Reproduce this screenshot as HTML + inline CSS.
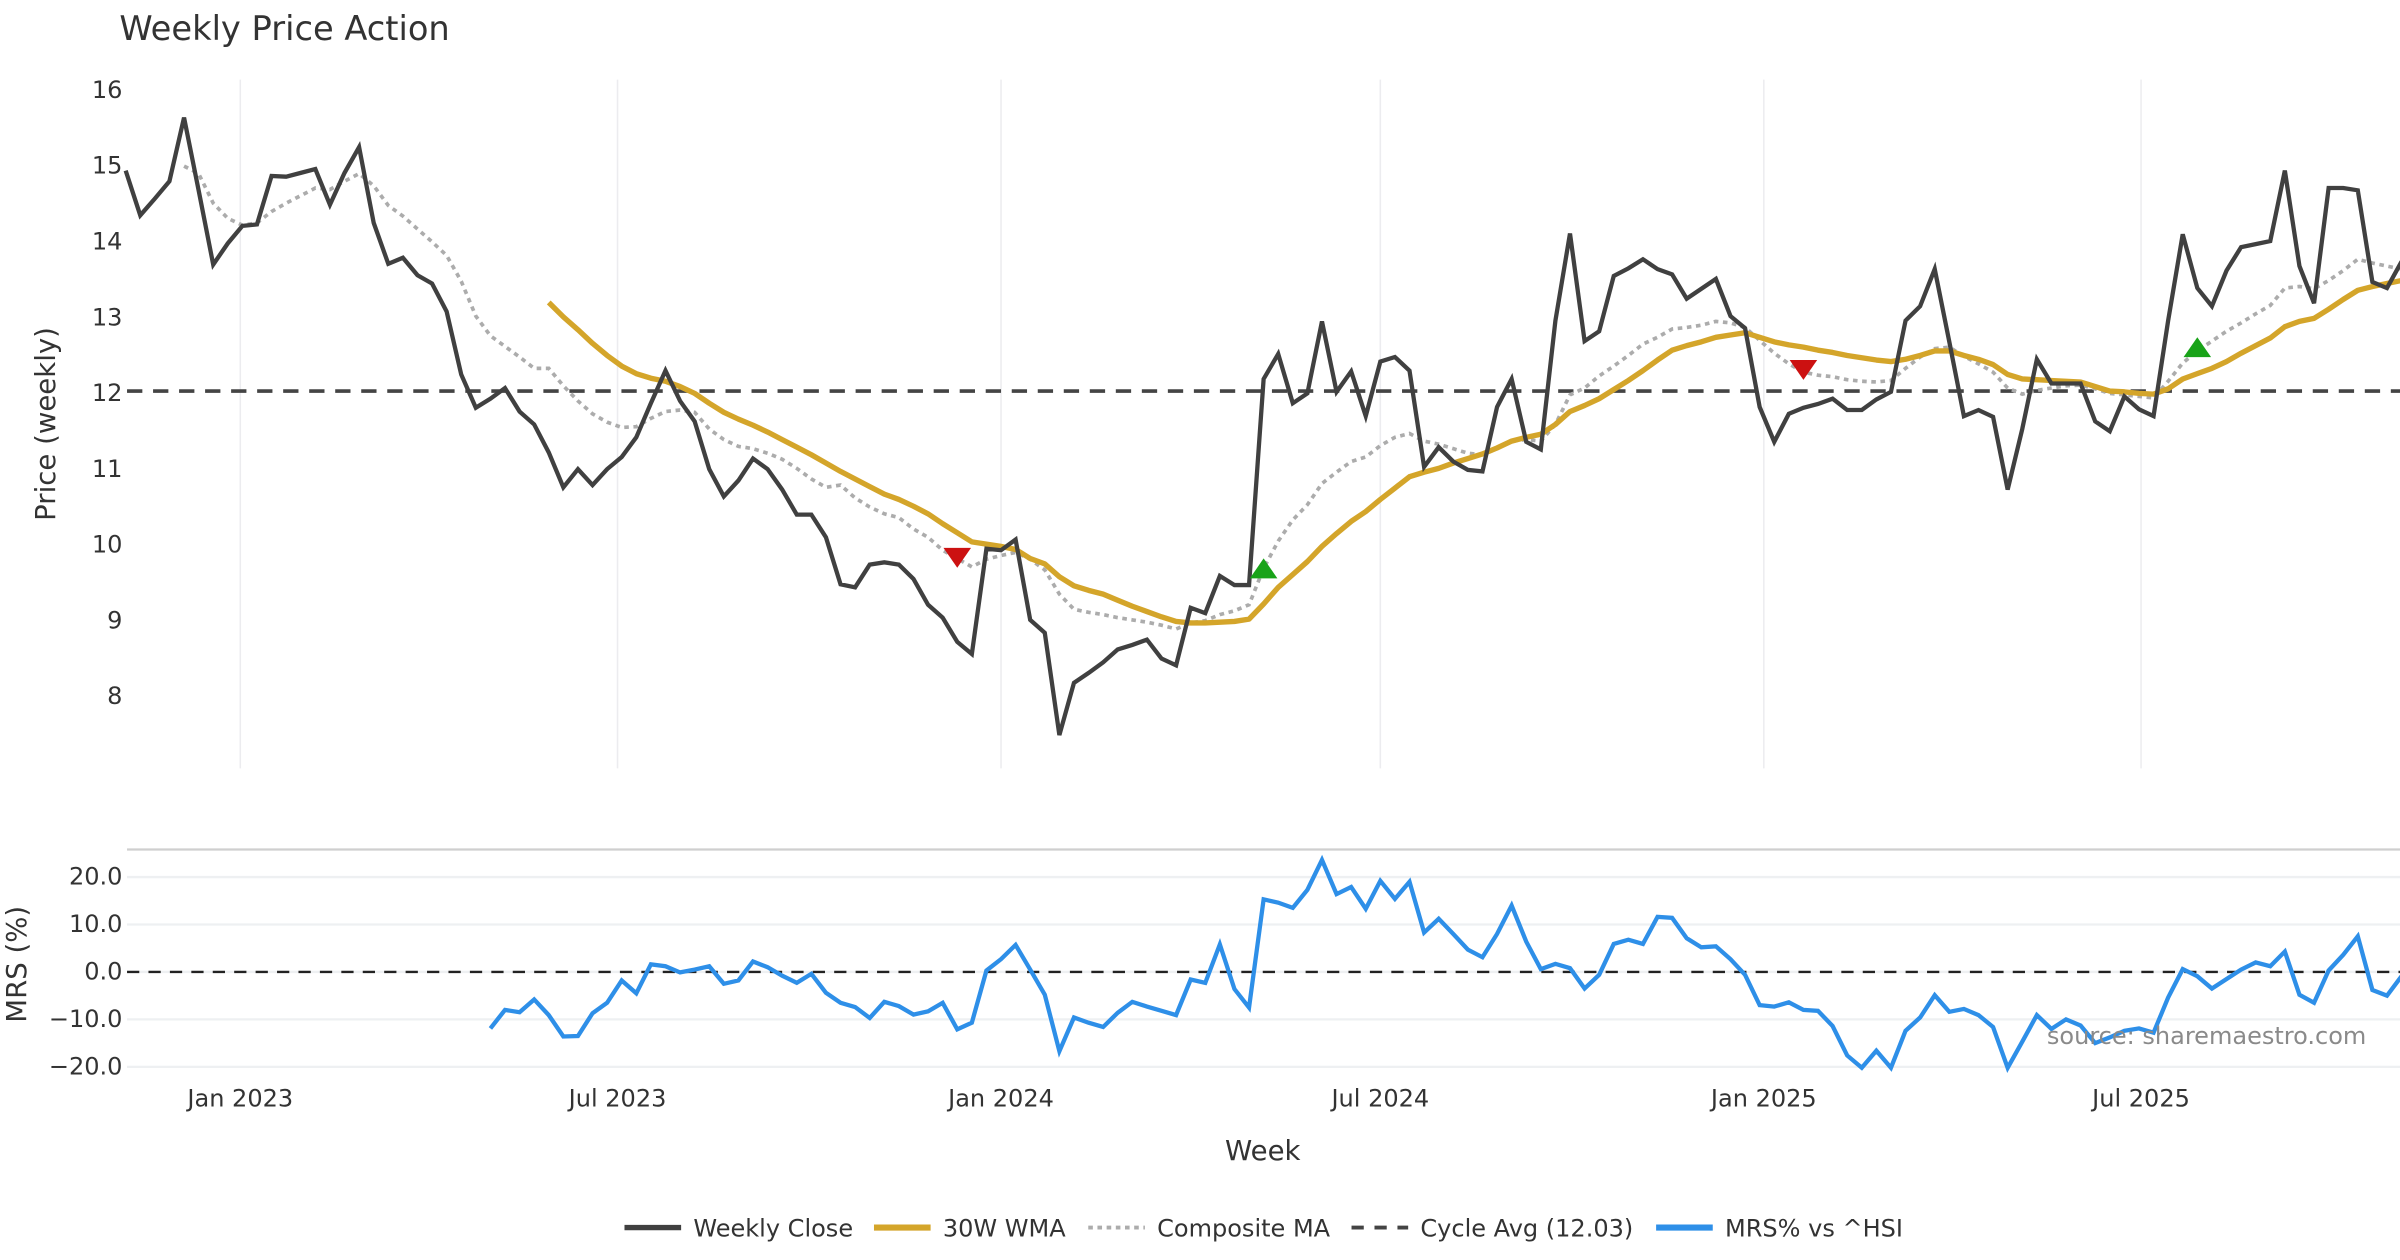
<!DOCTYPE html>
<html>
<head>
<meta charset="utf-8">
<style>
  html,body{margin:0;padding:0;background:#fff;}
  svg{display:block;}
  text{font-family:"DejaVu Sans","Liberation Sans",sans-serif;fill:#333;}
</style>
</head>
<body>
<svg id="chart" width="2400" height="1260" viewBox="0 0 1568 823.2" preserveAspectRatio="none" xmlns="http://www.w3.org/2000/svg">
  <rect x="0" y="0" width="1568" height="823.2" fill="#fff"/>
  <text x="78" y="26" font-size="22">Weekly Price Action</text>
  <g id="grid"></g>
  <g id="axes"></g>
  <g id="series"></g>
  <text transform="translate(36,277) rotate(-90)" text-anchor="middle" font-size="18">Price (weekly)</text>
  <text transform="translate(17,630) rotate(-90)" text-anchor="middle" font-size="18">MRS (%)</text>
  <text x="825" y="758" text-anchor="middle" font-size="18">Week</text>
  <text x="1546" y="682" text-anchor="end" font-size="15.7" style="fill:#8a8a8a">source: sharemaestro.com</text>
  <g id="legend"></g>
</svg>
<script>
const startDate = "2022-11-07";
const closeVals = [14.94,14.35,14.57,14.80,15.64,14.68,13.70,13.98,14.21,14.23,14.87,14.86,14.91,14.96,14.49,14.91,15.25,14.25,13.71,13.79,13.56,13.45,13.08,12.25,11.81,11.93,12.07,11.76,
11.59,11.22,10.76,11.0,10.79,11.0,11.16,11.42,11.87,12.3,11.9,11.63,11.0,10.64,10.85,11.14,11.0,10.73,10.4,10.4,10.1,9.48,9.44,9.74,9.77,9.74,
9.55,9.21,9.04,8.72,8.56,9.95,9.93,10.07,9.01,8.84,7.49,8.18,8.31,8.45,8.62,8.68,8.75,8.5,8.41,9.17,9.1,9.59,9.47,9.47,12.19,12.52,
11.87,12.0,12.95,12.02,12.29,11.7,12.42,12.48,12.3,11.03,11.29,11.1,10.99,10.97,11.82,12.19,11.36,11.26,12.96,14.11,12.69,12.82,13.55,13.65,13.77,13.64,
13.57,13.25,13.38,13.51,13.02,12.86,11.82,11.36,11.73,11.81,11.86,11.93,11.78,11.78,11.92,12.02,12.96,13.15,13.64,12.68,11.7,11.78,11.69,10.73,11.53,12.45,
12.13,12.13,12.13,11.63,11.5,11.96,11.79,11.7,12.96,14.1,13.39,13.15,13.62,13.93,13.97,14.01,14.94,13.68,13.19,14.71,14.71,14.68,13.47,13.39,13.74];
const compositeStart = 4;
const compositeVals = [15.0,14.9,14.51,14.31,14.22,14.25,14.4,14.51,14.61,14.71,14.69,14.8,14.9,14.74,14.48,14.34,14.17,14.0,13.82,13.48,13.02,12.76,12.62,
12.48,12.33,12.33,12.1,11.9,11.73,11.62,11.55,11.56,11.67,11.76,11.78,11.75,11.53,11.39,11.3,11.27,11.21,11.13,11.01,10.87,10.76,10.79,10.62,10.5,10.41,10.36,
10.21,10.1,9.93,9.82,9.71,9.81,9.86,9.9,9.81,9.67,9.35,9.15,9.11,9.08,9.04,9.01,8.98,8.94,8.89,8.97,9.0,9.08,9.13,9.21,9.69,10.05,
10.33,10.53,10.81,10.96,11.1,11.16,11.31,11.42,11.47,11.37,11.33,11.27,11.21,11.19,11.27,11.37,11.39,11.37,11.59,11.98,12.07,12.23,12.36,12.5,12.65,12.74,
12.85,12.87,12.9,12.95,12.93,12.87,12.7,12.53,12.39,12.28,12.24,12.22,12.18,12.16,12.15,12.17,12.33,12.48,12.59,12.61,12.49,12.39,12.28,12.07,11.99,12.04,
12.07,12.1,12.11,12.06,12.0,11.98,11.96,11.94,12.16,12.4,12.56,12.69,12.82,12.93,13.05,13.16,13.39,13.41,13.38,13.49,13.62,13.77,13.72,13.68,13.64];
const wmaStart = 29;
const wmaVals = [13.2,13.01,12.84,12.66,12.5,12.36,12.26,12.2,12.16,12.09,12.0,11.87,11.75,11.66,11.58,11.49,11.39,11.29,11.19,11.08,10.97,10.87,10.77,10.67,10.6,
10.51,10.41,10.28,10.16,10.04,10.01,9.98,9.94,9.82,9.75,9.58,9.46,9.4,9.35,9.27,9.19,9.12,9.05,8.99,8.97,8.97,8.98,8.99,9.02,9.22,9.44,
9.61,9.78,9.98,10.15,10.31,10.44,10.6,10.75,10.9,10.96,11.01,11.08,11.14,11.2,11.28,11.37,11.42,11.46,11.59,11.76,11.84,11.93,12.05,12.17,12.3,12.44,
12.57,12.63,12.68,12.74,12.77,12.8,12.74,12.68,12.64,12.61,12.57,12.54,12.5,12.47,12.44,12.42,12.45,12.5,12.56,12.56,12.5,12.45,12.38,12.25,12.19,12.18,
12.17,12.16,12.15,12.09,12.03,12.02,12.0,11.99,12.06,12.19,12.26,12.33,12.42,12.53,12.63,12.73,12.88,12.95,12.99,13.11,13.24,13.36,13.41,13.45,13.49];
const mrsStart = 25;
const mrsVals = [-11.9,-8.0,-8.5,-5.8,-9.1,-13.6,-13.5,-8.7,-6.5,-1.8,-4.5,1.6,1.2,-0.1,0.5,1.2,-2.5,-1.8,2.2,1.0,-0.8,-2.3,-0.4,-4.4,-6.5,-7.4,-9.7,-6.3,-7.2,-9.0,-8.3,-6.5,-12.1,-10.7,0.3,2.7,5.7,0.5,-4.8,-16.7,-9.6,-10.7,-11.6,
-8.6,-6.3,-7.3,-8.2,-9.1,-1.6,-2.3,5.8,-3.6,-7.5,15.3,14.6,13.5,17.3,23.6,16.4,17.9,13.3,19.2,15.4,19.0,8.3,11.2,8.0,4.7,3.1,8.0,14.0,6.4,0.6,1.7,0.8,-3.5,-0.6,5.9,6.8,5.9,11.6,11.4,7.1,5.2,5.4,2.7,
-0.6,-7.0,-7.3,-6.4,-8.0,-8.2,-11.4,-17.6,-20.2,-16.6,-20.2,-12.4,-9.6,-4.9,-8.4,-7.8,-9.1,-11.6,-20.2,-14.7,-9.1,-12.0,-10.0,-11.3,-15.0,-13.8,-12.4,-11.9,-12.8,-5.4,0.6,-0.9,-3.5,-1.5,0.5,2.0,1.2,4.3,-4.8,-6.5,0.3,3.6,7.5,-3.8,-5.0,-0.9];
const cycleAvg = 12.03;
const signalIdx = [57, 78, 115, 142];
const signalVal = [9.84, 9.68, 12.32, 12.6];
const signalDir = ["down", "up", "down", "up"];
const priceTicks = [8,9,10,11,12,13,14,15,16];
const mrsTicks = [20,10,0,-10,-20];
const mrsTickLabels = ["20.0","10.0","0.0","\u221210.0","\u221220.0"];
const monthTicks = ["2023-01-01","2023-07-01","2024-01-01","2024-07-01","2025-01-01","2025-07-01"];
const monthLabels = ["Jan 2023","Jul 2023","Jan 2024","Jul 2024","Jan 2025","Jul 2025"];

const NS = "http://www.w3.org/2000/svg";
const X0 = 157, T0 = Date.UTC(2023,0,1), PXDAY = 497/365;
const FS = 15.7;
function dateX(s){ const p=s.split("-"); return X0 + (Date.UTC(+p[0],+p[1]-1,+p[2]) - T0)/86400000*PXDAY; }
function idxX(i){ const p=startDate.split("-"); const t=Date.UTC(+p[0],+p[1]-1,+p[2]) + i*7*86400000; return X0 + (t-T0)/86400000*PXDAY; }
function yP(v){ return 59 + (16 - v)*49.5; }
function yM(v){ return 635 - v*3.1; }
function mk(tag, attrs, parent){ const e=document.createElementNS(NS,tag); for(const k in attrs) e.setAttribute(k,attrs[k]); parent.appendChild(e); return e; }

const grid = document.getElementById("grid");
const axes = document.getElementById("axes");
const series = document.getElementById("series");
const legend = document.getElementById("legend");
const R = 1568;

monthTicks.forEach((d,k)=>{
  const x = dateX(d);
  const g = mk("line",{x1:x,x2:x,y1:52,y2:502,stroke:"#ececef","stroke-width":1},grid);
  
  
  const t = mk("text",{x:x,y:723,"text-anchor":"middle","font-size":FS},axes);
  t.textContent = monthLabels[k];
  
  
});
priceTicks.forEach(v=>{
  const t = mk("text",{x:80,y:yP(v)+5,"text-anchor":"end","font-size":FS},axes);
  t.textContent = String(v);
  
  
});
const border = mk("line",{x1:83,x2:R,y1:555,y2:555,stroke:"#cfcfcf","stroke-width":1.5},grid);


mrsTicks.forEach((v,k)=>{
  const g = mk("line",{x1:83,x2:R,y1:yM(v),y2:yM(v),stroke:"#eef0f2","stroke-width":1.5},grid);
  
  
  const t = mk("text",{x:80,y:yM(v)+5,"text-anchor":"end","font-size":FS},axes);
  t.textContent = mrsTickLabels[k];
  
  
});
const zero = mk("line",{x1:83,x2:R,y1:yM(0),y2:yM(0),stroke:"#222","stroke-width":1.6,"stroke-dasharray":"8,6"},series);



const cyc = mk("line",{x1:83,x2:R,y1:yP(cycleAvg),y2:yP(cycleAvg),stroke:"#444","stroke-width":2.4,"stroke-dasharray":"10,7"},series);



function pathFrom(vals, start, yfn){
  return vals.map((v,k)=>(k?"L":"M")+idxX(start+k).toFixed(2)+","+yfn(v).toFixed(2)).join("");
}
const comp = mk("path",{d:pathFrom(compositeVals,compositeStart,yP),fill:"none",stroke:"#acacac","stroke-width":2.4,"stroke-dasharray":"3,3"},series);


const wma = mk("path",{d:pathFrom(wmaVals,wmaStart,yP),fill:"none",stroke:"#D4A52A","stroke-width":3.5,"stroke-linejoin":"round"},series);


const close = mk("path",{d:pathFrom(closeVals,0,yP),fill:"none",stroke:"#404040","stroke-width":2.8,"stroke-linejoin":"miter"},series);


const mrs = mk("path",{d:pathFrom(mrsVals,mrsStart,yM),fill:"none",stroke:"#2E8FE8","stroke-width":2.8,"stroke-linejoin":"miter"},series);



signalIdx.forEach((i,k)=>{
  const x = idxX(i), y = yP(signalVal[k]);
  let pts;
  if(signalDir[k]==="down") pts = [[x-9,y-6],[x+9,y-6],[x,y+7]];
  else pts = [[x-9,y+6],[x+9,y+6],[x,y-7]];
  const p = mk("polygon",{points:pts.map(a=>a.join(",")).join(" "),fill:signalDir[k]==="down"?"#CC1111":"#19A319"},series);
  
  
});

const legItems = [
  {x:408,label:"Weekly Close",stroke:"#404040",dash:"",w:3.5,name:"legend-weekly-close"},
  {x:571,label:"30W WMA",stroke:"#D4A52A",dash:"",w:4,name:"legend-wma"},
  {x:711,label:"Composite MA",stroke:"#acacac",dash:"3,3",w:2.5,name:"legend-composite-ma"},
  {x:883,label:"Cycle Avg (12.03)",stroke:"#444",dash:"8,7",w:2.5,name:"legend-cycle-avg"},
  {x:1082,label:"MRS% vs ^HSI",stroke:"#2E8FE8",dash:"",w:4,name:"legend-mrs"}
];
legItems.forEach(it=>{
  const g = mk("g",{},legend);
  
  
  const a = {x1:it.x,x2:it.x+37,y1:802,y2:802,stroke:it.stroke,"stroke-width":it.w};
  if(it.dash) a["stroke-dasharray"]=it.dash;
  mk("line",a,g);
  const t = mk("text",{x:it.x+45,y:808,"font-size":FS},g);
  t.textContent = it.label;
});
</script>
</body>
</html>
